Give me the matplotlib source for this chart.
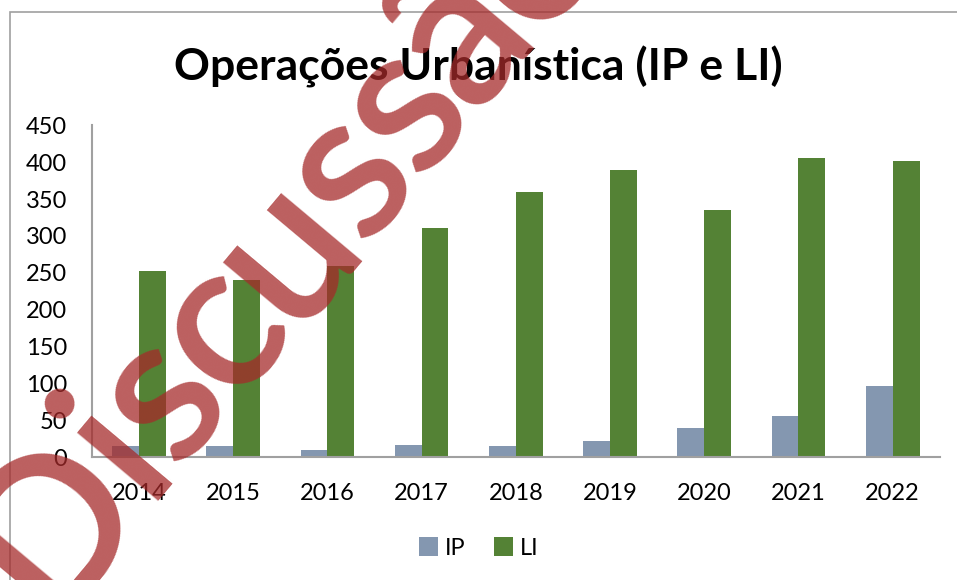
import matplotlib.pyplot as plt
import numpy as np
from matplotlib.patches import Rectangle
from matplotlib.font_manager import FontProperties

years = ["2014", "2015", "2016", "2017", "2018", "2019", "2020", "2021", "2022"]
ip = [15, 15, 10, 16, 15, 22, 39, 55, 96]
li = [253, 240, 259, 310, 360, 389, 335, 406, 402]

plt.rcParams["font.family"] = ["Lato", "DejaVu Sans"]

fig = plt.figure(figsize=(9.57, 5.8), dpi=100)
ax = fig.add_axes([0.096, 0.212, 0.886, 0.572])

x = np.arange(len(years))
w = 0.285
ax.bar(x - w / 2, ip, w, color="#8497b0", label="IP")
ax.bar(x + w / 2, li, w, color="#548235", label="LI")

ax.set_xlim(-0.5, len(years) - 0.5)
ax.set_ylim(0, 450)
ax.set_yticks(range(0, 451, 50))
ax.set_xticks(x)
ax.set_xticklabels(years)
ax.tick_params(axis="both", length=0, labelsize=17, colors="black")
ax.tick_params(axis="x", pad=19)
ax.tick_params(axis="y", pad=18)
for s in ["top", "right"]:
    ax.spines[s].set_visible(False)
for s in ["left", "bottom"]:
    ax.spines[s].set_color("#a0a0a0")
    ax.spines[s].set_linewidth(1.5)

fig.text(0.5, 0.885, "Operações Urbanística (IP e LI)", ha="center", va="center",
         fontsize=32, fontweight="bold")

fig.legend(loc="center", bbox_to_anchor=(0.5, 0.055), ncol=2, frameon=False,
           fontsize=17, handlelength=0.8, handleheight=0.8, handletextpad=0.3,
           columnspacing=1.2)

# chart frame
fig.patches.append(Rectangle((0.010, -0.05), 1.2, 1.029, transform=fig.transFigure,
                             fill=False, edgecolor="#a0a0a0", linewidth=1.2))

# watermark, letters placed one by one along a slanted baseline
word = "Discussão"
fp = FontProperties(family="Lato", weight="semibold", size=150)
renderer = fig.canvas.get_renderer()
pre = [0.0] + [renderer.get_text_width_height_descent(word[:k], fp, ismath=False)[0]
               for k in range(1, len(word) + 1)]
centers = [(pre[k] + pre[k + 1]) / 2 for k in range(len(word))]
W, H = fig.bbox.width, fig.bbox.height
ang = 50
d = np.array([np.cos(np.radians(ang)), np.sin(np.radians(ang))])
# baseline under the "i" near (162, 95) px, "u" ~260 px further along
track = 260 / (centers[4] - centers[1])
for k, ch in enumerate(word):
    p = np.array([162.0, 95.0]) + (centers[k] - centers[1]) * track * d
    fig.text(p[0] / W, p[1] / H, ch, fontproperties=fp, rotation=ang,
             rotation_mode="anchor", ha="center", va="baseline",
             color="#a52a2a", alpha=0.75)

fig.savefig("out.png", dpi=100)
